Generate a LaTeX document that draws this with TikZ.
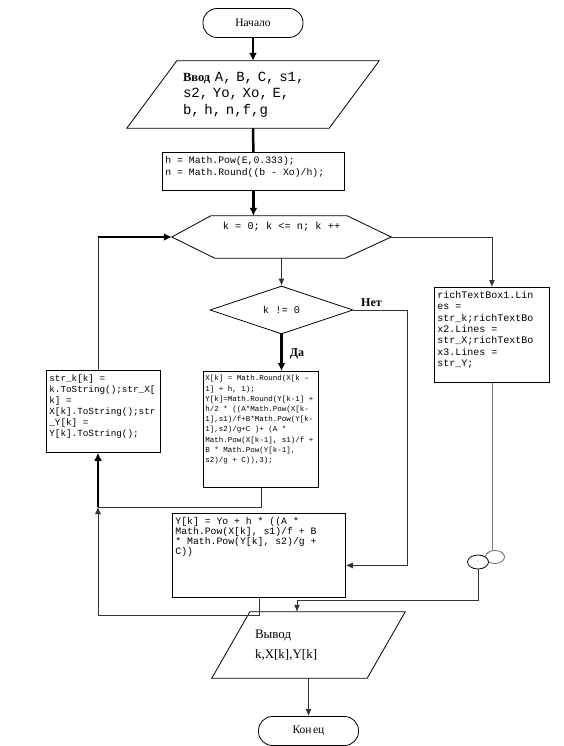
\documentclass[tikz,border=0pt]{standalone}
\usepackage{fontspec}
\setmainfont{Liberation Serif}
\setmonofont{Liberation Mono}
\usetikzlibrary{shapes.geometric, arrows.meta}

\newcommand{\codebox}[3]{\parbox[t][#2][t]{#1}{\raggedright #3}}

\tikzset{
  outline/.style={draw=black, line width=0.8pt},
  conn/.style={draw=black!80, line width=0.8pt},
  arr/.style={conn, -{Latex[length=7pt,width=6pt]}},
  fat/.style={draw=black, line width=2.5pt},
  fatarr/.style={fat, -{Latex[length=8pt,width=8pt]}},
  term/.style={outline, rounded corners=14pt, minimum width=100pt, minimum height=29pt, inner sep=0pt, font=\fontsize{11.5}{13}\selectfont},
  iobox/.style={inner sep=0pt, align=left},
  proc/.style={outline, anchor=north west, inner xsep=3pt, inner ysep=4pt},
  lbl/.style={inner sep=0pt, font=\bfseries\fontsize{12}{14}\selectfont},
}

\begin{document}
\begin{tikzpicture}[x=1pt, y=-1pt]
\useasboundingbox (0,0) rectangle (564,746);

% start, input, first block
\node[term] (start) at (253,23) {Начало};
\node[iobox, minimum width=202pt, minimum height=67pt, text width=140pt, font=\ttfamily\fontsize{14}{16.5}\selectfont] (input) at (253,94.5)
  {{\rmfamily\bfseries\fontsize{12.5}{16.5}\selectfont Ввод} A, B, C, s1,\\ s2, Yo, Xo, E,\\ b, h, n,f,g};
\draw[outline] ([xshift=-25pt]input.south west) -- ([xshift=25pt]input.north west) -- ([xshift=25pt]input.north east) -- ([xshift=-25pt]input.south east) -- cycle;
\node[proc, font=\ttfamily\fontsize{9.8}{11.5}\selectfont] (calc) at (162,152)
  {\codebox{176pt}{30pt}{h = Math.Pow(E,0.333);\\ n = Math.Round((b - Xo)/h);}};

% loop header
\node[inner sep=0pt, minimum width=219pt, minimum height=42pt, text height=7pt, text depth=22pt, font=\ttfamily\fontsize{10.3}{12}\selectfont] (loop) at (281.5,237) {k = 0; k <= n; k ++};
\draw[outline] (loop.west) -- ([xshift=39pt]loop.north west) -- ([xshift=-44pt]loop.north east) -- (loop.east) -- ([xshift=-46pt]loop.south east) -- ([xshift=43pt]loop.south west) -- cycle;

% body of the loop
\node[diamond, outline, minimum width=143pt, minimum height=48pt, inner sep=0pt, font=\ttfamily\fontsize{10.3}{12}\selectfont] (cond) at (281.5,310) {k != 0};
\node[lbl] (yes) at (297,354) {Да};
\node[lbl] (no) at (371.5,303) {Нет};
\node[proc, inner xsep=2pt, font=\ttfamily\fontsize{7.5}{10.2}\selectfont] (xcalc) at (203,371)
  {\codebox{111pt}{108pt}{X[k] = Math.Round(X[k –\\ 1] + h, 1);\\ Y[k]=Math.Round(Y[k-1] +\\ h/2 * ((A*Math.Pow(X[k-\\ 1],s1)/f+B*Math.Pow(Y[k-\\ 1],s2)/g+C )+ (A *\\ Math.Pow(X[k-1], s1)/f +\\ B * Math.Pow(Y[k-1],\\ s2)/g + C)),3);}};
\node[proc, font=\ttfamily\fontsize{9.8}{10}\selectfont] (ycalc) at (172,513)
  {\codebox{167pt}{76pt}{Y[k] = Yo + h * ((A *\\ Math.Pow(X[k], s1)/f + B\\{}* Math.Pow(Y[k], s2)/g +\\ C))}};
\node[proc, font=\ttfamily\fontsize{9.3}{11}\selectfont] (strs) at (46,370)
  {\codebox{108pt}{74pt}{str\_k[k] =\\ k.ToString();str\_X[\\ k] =\\ X[k].ToString();str\\ \_Y[k] =\\ Y[k].ToString();}};

% output branch
\node[proc, font=\ttfamily\fontsize{10}{11.3}\selectfont] (show) at (434,287)
  {\codebox{109pt}{87pt}{richTextBox1.Lin\\ es =\\ str\_k;richTextBo\\ x2.Lines =\\ str\_X;richTextBo\\ x3.Lines =\\ str\_Y;}};
\node[ellipse, draw=black!60, line width=0.8pt, minimum width=19pt, minimum height=13pt, inner sep=0pt] (c2) at (495,557) {};
\node[ellipse, outline, fill=white, minimum width=21pt, minimum height=14pt, inner sep=0pt, font=\fontsize{6}{6}\selectfont] (c1) at (478,562) {·};
\node[iobox, minimum width=155pt, minimum height=60pt, text width=107pt, font=\fontsize{13}{20}\selectfont] (output) at (308.5,645) {Вывод\\k,X[k],Y[k]};
\draw[outline] ([xshift=-19pt,yshift=-3pt]output.south west) -- ([xshift=19pt,yshift=3pt]output.north west) -- ([xshift=19pt,yshift=3pt]output.north east) -- ([xshift=-19pt,yshift=-3pt]output.south east) -- cycle;
\node[term] (stop) at (308.5,731) {Кон\kern1.5pt ец};

% connectors
\coordinate (back) at (98,507);
\coordinate (loopin) at (loop.west -| back);
\coordinate (outin) at ([xshift=-11.5pt,yshift=3pt]output.north);
\draw[fatarr] (start.south) -- (input.north);
\draw[fat] (input.south) -- (calc.north);
\draw[fatarr] (calc.south) -- (calc.south |- loop.north);
\draw[arr] (loop.south) -- (cond.north);
\draw[fatarr] (cond.south) -- (cond.south |- xcalc.north);
\draw[arr] (cond.east) -- ++(54,0) |- ([yshift=-10pt]ycalc.east);
\draw[conn] (xcalc.south) |- (back);
\draw[arr] (ycalc.south) -- ++(0,18) -| (back);
\draw[fatarr] (back) -- (back |- strs.south);
\draw[conn] (back |- strs.north) -- (loopin);
\draw[fatarr] (loopin) -- (loop.west);
\draw[arr] (loop.east) -| (show.north);
\draw[conn, draw=black!55] (show.south) -- (show.south |- c2.north);
\draw[arr] (c1.south) -- ++(0,31) -| (outin);
\draw[arr] ([yshift=-3pt]output.south) -- (stop.north);
\end{tikzpicture}
\end{document}
